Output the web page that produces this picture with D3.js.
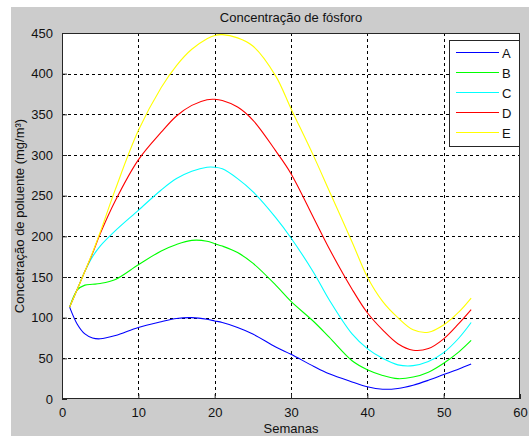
<!DOCTYPE html>
<html>
<head>
<meta charset="utf-8">
<script src="https://cdn.jsdelivr.net/npm/d3@7"></script>
<style>
  body { margin: 0; background: #fff; }
  svg { display: block; font-family: "Liberation Sans", Arial, sans-serif; }
</style>
</head>
<body>
<div id="chart"></div>
<script>
// semanas (eixo x)
var weeks = [1, 2, 3, 4, 5, 7, 10, 13, 15, 17, 19, 20, 21, 23, 25, 28, 30, 33, 35, 38, 40, 42, 44, 46, 48, 50, 52, 53.6];

var serieA = [113, 92, 80, 75, 74, 78, 88, 95, 99, 100, 98, 96, 94, 88, 80, 64, 55, 40, 31, 21, 15, 12, 13, 17, 23, 30, 37, 43];
var serieB = [113, 134, 140, 141, 142, 147, 165, 182, 190, 195, 194, 191, 188, 180, 167, 140, 120, 95, 76, 47, 36, 29, 25, 27, 33, 44, 58, 72];
var serieC = [113, 135, 157, 175, 188, 207, 232, 257, 271, 280, 285, 285, 283, 271, 255, 223, 198, 155, 122, 80, 62, 50, 42, 41, 46, 57, 75, 94];
var serieD = [113, 135, 157, 179, 203, 244, 294, 328, 348, 361, 368, 368.5, 367, 359, 343, 305, 277, 222, 185, 135, 106, 85, 68, 60, 62, 74, 93, 110];
var serieE = [113, 135, 157, 180, 205, 258, 330, 383, 410, 430, 443, 447, 448, 444, 434, 397, 357, 298, 256, 193, 150, 120, 100, 85, 82, 91, 107, 124];

var seriesNames = ["A", "B", "C", "D", "E"];
var seriesColors = ["#0000ff", "#00ff00", "#00ffff", "#ff0000", "#ffff00"];
var seriesValues = [serieA, serieB, serieC, serieD, serieE];

var xTicks = [0, 10, 20, 30, 40, 50, 60];
var yTicks = [0, 50, 100, 150, 200, 250, 300, 350, 400, 450];

var width = 529, height = 436;
var margin = {left: 62, top: 33, right: 9, bottom: 37};
var pw = width - margin.left - margin.right;
var ph = height - margin.top - margin.bottom;

var svg = d3.select("#chart").append("svg")
    .attr("width", width)
    .attr("height", height);

// fundo cinza da figura
svg.append("rect")
    .attr("x", 11).attr("y", 7)
    .attr("width", width - 11).attr("height", height - 7)
    .attr("fill", "#cccccc");

var g = svg.append("g")
    .attr("transform", `translate(${margin.left},${margin.top})`);

var xScale = d3.scaleLinear().domain([0, 60]).range([0, pw]);
var yScale = d3.scaleLinear().domain([0, 450]).range([ph, 0]);

g.append("rect")
    .attr("width", pw).attr("height", ph)
    .attr("fill", "#fff");

/* grid */
g.selectAll(".gx")
    .data(xTicks.slice(1, -1))
    .join("line")
    .attr("class", "gx")
    .attr("x1", d => Math.round(xScale(d)) + 0.5)
    .attr("x2", d => Math.round(xScale(d)) + 0.5)
    .attr("y1", 0).attr("y2", ph)
    .attr("stroke", "#000")
    .attr("stroke-dasharray", "3,3");

g.selectAll(".gy")
    .data(yTicks.slice(1, -1))
    .join("line")
    .attr("class", "gy")
    .attr("y1", d => Math.round(yScale(d)) + 0.5)
    .attr("y2", d => Math.round(yScale(d)) + 0.5)
    .attr("x1", 0).attr("x2", pw)
    .attr("stroke", "#000")
    .attr("stroke-dasharray", "3,3");

/* curvas */
var line = d3.line()
    .x((d, i) => xScale(weeks[i]))
    .y(d => yScale(d))
    .curve(d3.curveCatmullRom.alpha(0.5));

g.selectAll(".serie")
    .data(seriesValues)
    .join("path")
    .attr("class", "serie")
    .attr("d", d => line(d))
    .attr("fill", "none")
    .attr("stroke", (d, i) => seriesColors[i])
    .attr("stroke-width", 1.1);

/* eixos */
var xAxis = d3.axisBottom(xScale).tickValues(xTicks).tickSizeInner(-5).tickSizeOuter(0).tickPadding(9);
var yAxis = d3.axisLeft(yScale).tickValues(yTicks).tickSizeInner(-5).tickSizeOuter(0).tickPadding(9);

var gx = g.append("g")
    .attr("transform", `translate(0,${ph})`)
    .call(xAxis);
var gy = g.append("g").call(yAxis);

[gx, gy].forEach(function(a) {
    a.select(".domain").remove();
    a.selectAll("line").attr("stroke", "#262626");
    a.selectAll("text")
        .style("font-size", "13px")
        .attr("fill", "#111")
        .style("font-family", "'Liberation Sans', Arial, sans-serif");
});

g.append("rect")
    .attr("x", 0.5).attr("y", 0.5)
    .attr("width", pw - 1).attr("height", ph - 1)
    .attr("fill", "none")
    .attr("stroke", "#262626");

/* textos */
svg.append("text")
    .attr("x", margin.left + pw / 2)
    .attr("y", 22)
    .attr("text-anchor", "middle")
    .style("font-size", "13px")
    .attr("fill", "#111")
    .text("Concentração de fósforo");

svg.append("text")
    .attr("x", margin.left + pw / 2)
    .attr("y", 433)
    .attr("text-anchor", "middle")
    .style("font-size", "13px")
    .attr("fill", "#111")
    .text("Semanas");

svg.append("text")
    .attr("transform", `translate(24,${margin.top + ph / 2}) rotate(-90)`)
    .attr("text-anchor", "middle")
    .style("font-size", "13px")
    .attr("fill", "#111")
    .text("Concetração de poluente (mg/m³)");

/* legenda */
var leg = g.append("g")
    .attr("transform", `translate(${pw - 71},7)`);

leg.append("rect")
    .attr("x", 0.5).attr("y", 0.5)
    .attr("width", 70).attr("height", 106)
    .attr("fill", "#fff")
    .attr("stroke", "#262626");

var items = leg.selectAll(".item")
    .data(seriesNames)
    .join("g")
    .attr("class", "item")
    .attr("transform", (d, i) => `translate(0,${12.5 + i * 20})`);

items.append("line")
    .attr("x1", 7).attr("x2", 50)
    .attr("stroke", (d, i) => seriesColors[i]);

items.append("text")
    .attr("x", 53)
    .attr("y", 5)
    .style("font-size", "13px")
    .attr("fill", "#111")
    .text(d => d);
</script>
</body>
</html>
